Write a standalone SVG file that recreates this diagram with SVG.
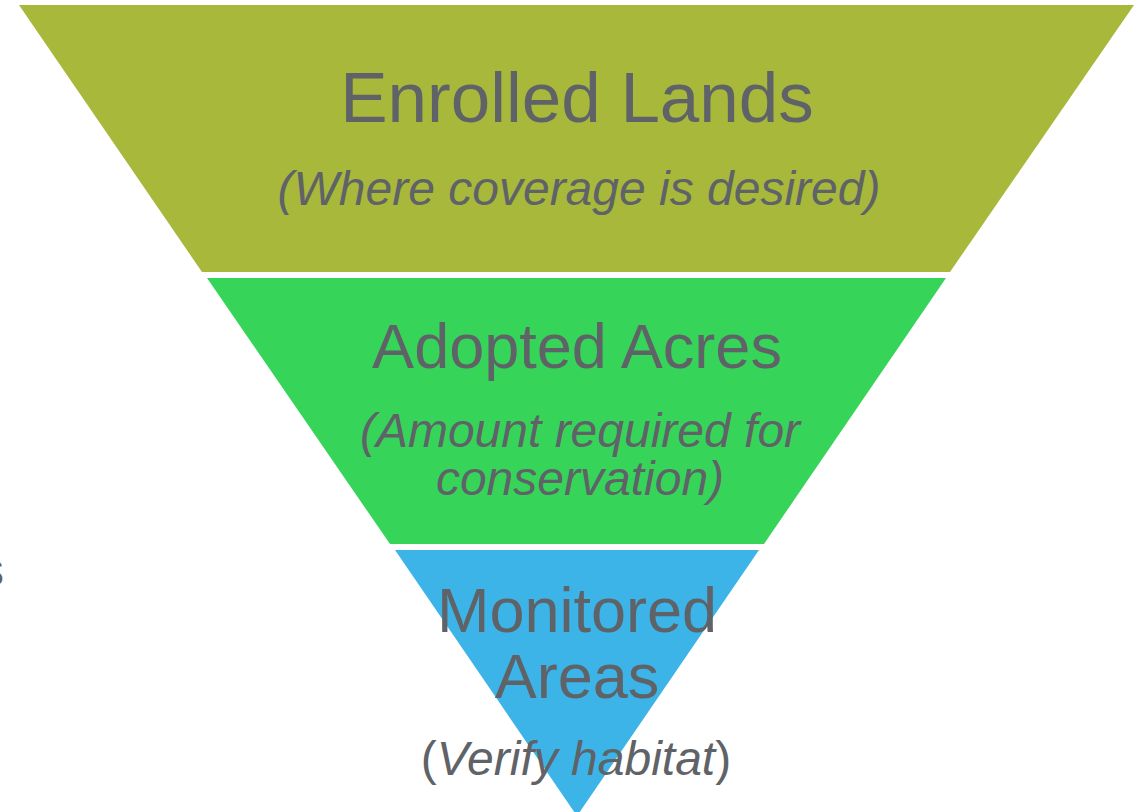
<svg xmlns="http://www.w3.org/2000/svg" width="1145" height="812" viewBox="0 0 1145 812">
<style>
.t{font-family:"Liberation Sans",Arial,sans-serif;fill:#5F6368;text-anchor:middle}
.h{font-size:63px}
.s{font-size:48px;font-style:italic}
</style>
<rect width="1145" height="812" fill="#FFFFFF"/>
<g id="enrolled-lands">
<polygon points="19,5 1134,5 950,272 202,272" fill="#A8B83B"/>
<text class="t" x="577" y="122" style="font-size:71px">Enrolled Lands</text>
<text class="t s" x="579" y="205">(Where coverage is desired)</text>
</g>
<g id="adopted-acres">
<polygon points="207,278 946,278 764,544 390,544" fill="#36D55A"/>
<text class="t h" x="577" y="368">Adopted Acres</text>
<text class="t s" x="580" y="447">(Amount required for</text>
<text class="t s" x="580" y="495">conservation)</text>
</g>
<g id="monitored-areas">
<polygon points="395,550 759,550 577,816" fill="#3DB4E8"/>
<text class="t h" x="577" y="632">Monitored</text>
<text class="t h" x="577" y="698">Areas</text>
<text class="t" x="576" y="775" style="font-size:48px">(<tspan font-style="italic">Verify habitat</tspan>)</text>
</g>
<g id="connectors"/>
<text class="t" x="4" y="586" style="font-size:48px;text-anchor:end">s</text>
</svg>
